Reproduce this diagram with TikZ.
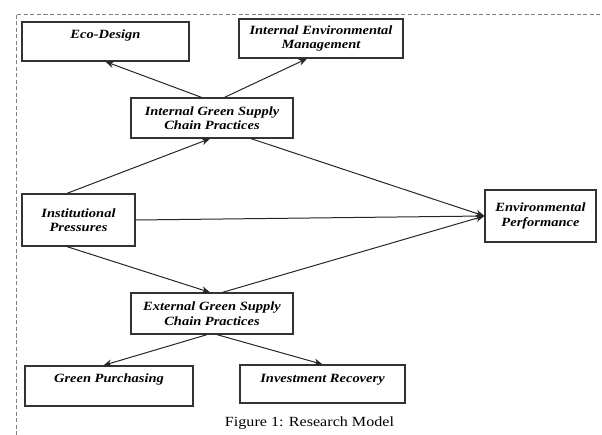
\documentclass[tikz,border=0pt]{standalone}
\usepackage{fontspec}
\usetikzlibrary{arrows.meta}
\setmainfont{Liberation Serif}
\newfontfamily\boxfont{Liberation Serif}[FakeStretch=1.15]

\tikzset{
  box/.style={draw=black!80, line width=1.3pt, inner sep=0pt, align=center,
    font=\boxfont\fontsize{12.6}{14.5}\selectfont\bfseries\itshape},
  link/.style={->, line width=1pt, black!85}
}

\begin{document}
\begin{tikzpicture}[x=1pt, y=-1pt, >={Stealth[length=8.5pt, width=7pt]}]
    \useasboundingbox (0,0) rectangle (602,435);
    % Frame of the figure, cut off on the right and at the bottom.
    \draw[gray, line width=0.6pt, dash pattern=on 4pt off 2.5pt] (16,435) -- (16,14) -- (602,14);

    \node[box, minimum width=167pt, minimum height=39pt, text depth=15pt] (eco) at (105.5,41.5) {Eco-Design};
    \node[box, minimum width=164pt, minimum height=39pt] (iem) at (321,38.5) {Internal Environmental\\Management};
    \node[box, minimum width=162pt, minimum height=40pt] (igscp) at (212,118) {Internal Green Supply\\Chain Practices};
    \node[box, minimum width=113pt, minimum height=52pt] (ip) at (78.5,220) {Institutional\\Pressures};
    \node[box, minimum width=111pt, minimum height=52pt] (ep) at (540.5,216) {Environmental\\Performance};
    \node[box, minimum width=162pt, minimum height=41pt] (egscp) at (212,313.5) {External Green Supply\\Chain Practices};
    \node[box, minimum width=168pt, minimum height=40pt, text depth=15pt] (gp) at (109,386) {Green Purchasing};
    \node[box, minimum width=165pt, minimum height=38pt, text depth=12pt] (ir) at (322.5,384) {Investment Recovery};

    \node[font=\boxfont\fontsize{14}{15}\selectfont] (cap) at (309.5,423) {Figure 1: Research Model};

    \draw[link] ([xshift=-10.5pt]igscp.north) -- (eco.south);
    \draw[link] ([xshift=12.5pt]igscp.north) -- ([xshift=-14pt]iem.south);
    \draw[link] ([xshift=-11.5pt]ip.north) -- ([xshift=-2pt]igscp.south);
    \draw[link] ([xshift=39pt]igscp.south) -- (ep.west);
    \draw[link] (ip.east) -- (ep.west);
    \draw[link] ([xshift=-11.5pt]ip.south) -- ([xshift=-2pt]egscp.north);
    \draw[link] ([xshift=10.5pt]egscp.north) -- (ep.west);
    \draw[link] ([xshift=-5pt]egscp.south) -- ([xshift=-5.5pt]gp.north);
    \draw[link] ([xshift=5pt]egscp.south) -- (ir.north);
\end{tikzpicture}
\end{document}
